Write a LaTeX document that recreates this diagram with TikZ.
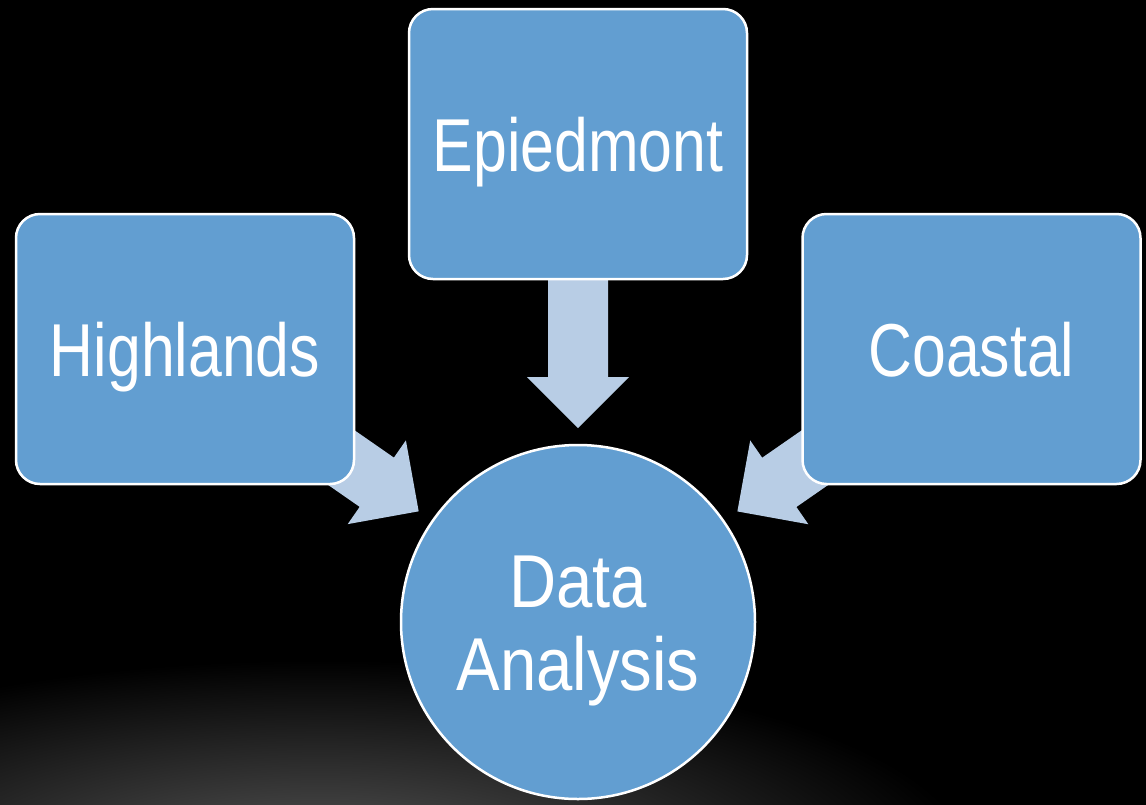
\documentclass[tikz,border=0pt]{standalone}
\usepackage{fontspec}
\usetikzlibrary{calc}
\newfontfamily\lblfont[FakeStretch=0.81]{Liberation Sans}
\newfontfamily\hubfont[FakeStretch=0.87]{Liberation Sans}
\definecolor{smblue}{RGB}{98,158,209}
\definecolor{smarrow}{RGB}{184,205,229}
\definecolor{glowgray}{RGB}{86,86,86}
% soft floor glow: reaches black at a quarter of the shading box
\pgfdeclareradialshading{floorglow}{\pgfpoint{0bp}{0bp}}{%
  color(0bp)=(glowgray); color(12.5bp)=(black); color(50bp)=(black)}
\pgfdeclarelayer{bg}
\pgfdeclarelayer{arrows}
\pgfsetlayers{bg,arrows,main}

% Block arrow from the centre of node #1 towards the hub, tip 194pt from the hub centre
\newcommand{\feedarrow}[1]{%
  \path ($(data.center)!194pt!(#1.center)$) coordinate (#1-tip)
        ($(#1-tip)!51pt!(#1.center)$) coordinate (#1-neck);
  \fill[smarrow] (#1-tip)
    -- ($(#1-neck)!51pt!90:(#1.center)$)
    -- ($(#1-neck)!30pt!90:(#1.center)$)
    -- ($(#1.center)!30pt!-90:(#1-neck)$)
    -- ($(#1.center)!30pt!90:(#1-neck)$)
    -- ($(#1-neck)!30pt!-90:(#1.center)$)
    -- ($(#1-neck)!51pt!-90:(#1.center)$) -- cycle;
}

\begin{document}
\begin{tikzpicture}[x=1pt,y=-1pt,
  region/.style={rectangle, rounded corners=24pt, minimum width=338pt,
    minimum height=270pt, inner sep=0pt, fill=smblue, draw=white,
    line width=2.5pt, text=white, font=\lblfont\fontsize{75}{83}\selectfont,
    text height=54pt, text depth=0pt},
  hub/.style={circle, minimum size=354pt, inner sep=0pt, fill=smblue,
    draw=white, line width=2.5pt, text=white, align=center,
    font=\hubfont\fontsize{75}{83}\selectfont, text height=137pt, text depth=0pt}]
\useasboundingbox (0,0) rectangle (1146,804);

\node[region] (epi) at (578,144) {Epiedmont};
\node[region] (hl) at (185,349) {Highlands};
\node[region] (co) at (971.5,349) {Coastal};
\node[hub] (data) at (578,622) {Data\\Analysis};

\begin{pgfonlayer}{arrows}
  \feedarrow{epi}
  \feedarrow{hl}
  \feedarrow{co}
\end{pgfonlayer}

\begin{pgfonlayer}{bg}
  \fill[black] (0,0) rectangle (1146,804);
  \begin{scope}
    \clip (0,0) rectangle (1146,804);
    \shade[shading=floorglow] (320,860) ellipse [x radius=1300, y radius=400];
  \end{scope}
\end{pgfonlayer}
\end{tikzpicture}
\end{document}
